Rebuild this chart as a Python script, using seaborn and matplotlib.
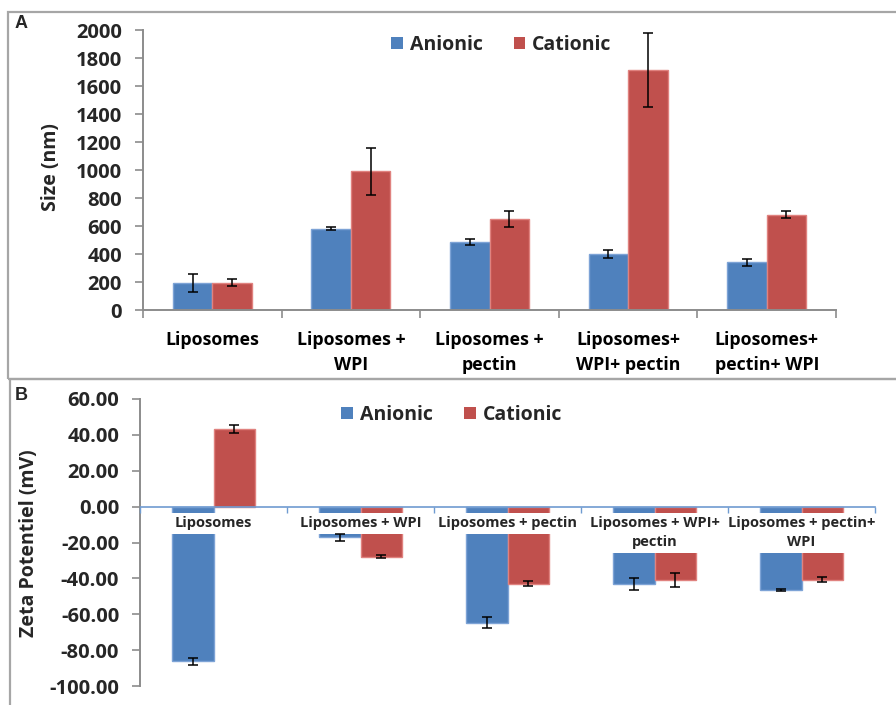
import numpy as np
import pandas as pd
import matplotlib
matplotlib.use("Agg")
import matplotlib.pyplot as plt
from matplotlib.patches import Rectangle
from matplotlib.ticker import FormatStrFormatter, MultipleLocator, FixedLocator
import seaborn as sns

# ---- data -------------------------------------------------------------
charges = ["Anionic", "Cationic"]

size_labels = ["Liposomes", "Liposomes +\nWPI", "Liposomes +\npectin",
               "Liposomes+\nWPI+ pectin", "Liposomes+\npectin+ WPI"]
size_anionic = [195, 581, 488, 402, 341]
size_anionic_err = [65, 12, 22, 28, 26]
size_cationic = [196, 990, 652, 1714, 681]
size_cationic_err = [28, 166, 57, 267, 27]

zeta_labels = ["Liposomes", "Liposomes + WPI", "Liposomes + pectin",
               "Liposomes + WPI+\npectin", "Liposomes + pectin+\nWPI"]
zeta_anionic = [-86.3, -17.1, -64.8, -43.1, -46.3]
zeta_anionic_err = [1.9, 2.0, 3.0, 3.3, 0.5]
zeta_cationic = [43.1, -27.9, -43.1, -40.9, -40.7]
zeta_cationic_err = [2.3, 0.7, 1.4, 4.0, 1.3]

BLUE, RED = "#4F81BD", "#C0504D"
BLUE_EDGE, RED_EDGE = "#7DA3D6", "#E0827F"


def long_table(labels, anionic, cationic):
    return pd.DataFrame({
        "formulation": labels * 2,
        "charge": ["Anionic"] * len(labels) + ["Cationic"] * len(labels),
        "value": list(anionic) + list(cationic),
    })


sns.set_style("white")
plt.rcParams["font.family"] = ["Open Sans", "DejaVu Sans"]
plt.rcParams["font.weight"] = "bold"
plt.rcParams["axes.unicode_minus"] = False

fig = plt.figure(figsize=(8.96, 7.05), dpi=100)
W, H = 896, 705


def px_axes(left, top, right, bottom):
    return fig.add_axes([left / W, 1 - bottom / H, (right - left) / W, (bottom - top) / H])


def draw_bars(ax, df, labels, errs):
    sns.barplot(data=df, x="formulation", y="value", hue="charge",
                order=labels, hue_order=charges, palette=[BLUE, RED],
                saturation=1, width=0.57, gap=0, errorbar=None,
                linewidth=1.0, ax=ax)
    for cont, edge, vals, err in zip(ax.containers, [BLUE_EDGE, RED_EDGE],
                                     errs[0], errs[1]):
        xs = []
        for bar in cont:
            bar.set_edgecolor(edge)
            xs.append(bar.get_x() + bar.get_width() / 2)
        ax.errorbar(xs, vals, yerr=err, fmt="none", ecolor="black",
                    elinewidth=1.1, capsize=3.5, capthick=1.1, zorder=3)


def legend(ax, anchor):
    handles = [Rectangle((0, 0), 1, 1, facecolor=c, edgecolor="none") for c in (BLUE, RED)]
    ax.legend(handles, charges, loc="center", bbox_to_anchor=anchor, ncol=2,
              frameon=False, handlelength=0.6, handleheight=0.6,
              handletextpad=0.35, columnspacing=1.6,
              prop={"weight": "bold", "size": 14})


# ---- panel frames -----------------------------------------------------
frame_kw = dict(facecolor="none", edgecolor="#A6A6A6", linewidth=1.6,
                transform=fig.transFigure, clip_on=False)
fig.patches.append(Rectangle((8 / W, 1 - 379 / H), 900 / W, 367 / H, **frame_kw))
fig.patches.append(Rectangle((10 / W, -0.01), 900 / W, 1 - 379 / H + 0.01, **frame_kw))
fig.text(21 / W, 1 - 24 / H, "A", family="Liberation Sans", weight="bold",
         fontsize=13, ha="center", va="center")
fig.text(21 / W, 1 - 396 / H, "B", family="Liberation Sans", weight="bold",
         fontsize=13, ha="center", va="center")

# ---- panel A: particle size -------------------------------------------
axA = px_axes(143, 30, 836, 310)
draw_bars(axA, long_table(size_labels, size_anionic, size_cationic), size_labels,
          ([size_anionic, size_cationic], [size_anionic_err, size_cationic_err]))
axA.set_xlim(-0.5, 4.5)
axA.set_ylim(0, 2000)
axA.yaxis.set_major_locator(MultipleLocator(200))
axA.xaxis.set_minor_locator(FixedLocator(np.arange(-0.5, 5, 1.0)))
axA.tick_params(axis="x", which="major", length=0, pad=15, labelsize=12.8,
                labelcolor="black")
axA.tick_params(axis="x", which="minor", length=6, width=1.2, color="#8C8C8C",
                direction="out", bottom=True)
axA.tick_params(axis="y", length=6, width=1.2, color="#8C8C8C", direction="out",
                left=True, labelsize=14.5, pad=9)
for lbl in axA.get_xticklabels():
    lbl.set_linespacing(1.5)
    lbl.set_fontweight("bold")
for lbl in axA.get_yticklabels():
    lbl.set_fontweight("bold")
for side in ("top", "right"):
    axA.spines[side].set_visible(False)
for side in ("left", "bottom"):
    axA.spines[side].set_color("#8C8C8C")
    axA.spines[side].set_linewidth(1.4)
axA.set_xlabel("")
axA.set_ylabel("Size (nm)", fontsize=14, fontweight="bold")
axA.yaxis.set_label_coords(-0.118, 0.51)
legend(axA, (0.517, 0.946))

# ---- panel B: zeta potential ------------------------------------------
axB = px_axes(140, 399, 875, 686)
draw_bars(axB, long_table(zeta_labels, zeta_anionic, zeta_cationic), zeta_labels,
          ([zeta_anionic, zeta_cationic], [zeta_anionic_err, zeta_cationic_err]))
# category labels sit on white boxes above the bars
axB.set_axisbelow(False)
axB.xaxis.set_zorder(2.5)
axB.set_xlim(-0.5, 4.5)
axB.set_ylim(-100, 60)
axB.yaxis.set_major_locator(MultipleLocator(20))
axB.yaxis.set_major_formatter(FormatStrFormatter("%.2f"))
axB.spines["bottom"].set_position(("data", 0))
axB.spines["bottom"].set_color("#6F9BD1")
axB.spines["bottom"].set_linewidth(1.2)
axB.spines["left"].set_color("#8C8C8C")
axB.spines["left"].set_linewidth(1.4)
for side in ("top", "right"):
    axB.spines[side].set_visible(False)
axB.xaxis.set_minor_locator(FixedLocator(np.arange(-0.5, 5, 1.0)))
axB.set_xticks(range(len(zeta_labels)))
axB.set_xticklabels(zeta_labels, fontsize=10.5, fontweight="bold", linespacing=1.45,
                    bbox=dict(facecolor="white", edgecolor="none", pad=2.5))
axB.tick_params(axis="x", which="major", length=0, pad=7)
axB.tick_params(axis="x", which="minor", length=4, width=1.0, color="#6F9BD1",
                direction="out", bottom=True)
axB.tick_params(axis="y", length=6, width=1.2, color="#8C8C8C", direction="out",
                left=True, labelsize=14.5, pad=9)
for lbl in axB.get_yticklabels():
    lbl.set_fontweight("bold")
axB.set_xlabel("")
axB.set_ylabel("Zeta Potentiel (mV)", fontsize=14, fontweight="bold")
axB.yaxis.set_label_coords(-0.138, 0.4965)
legend(axB, (0.424, 0.944))

fig.savefig("out.png", dpi=100, facecolor="white")
